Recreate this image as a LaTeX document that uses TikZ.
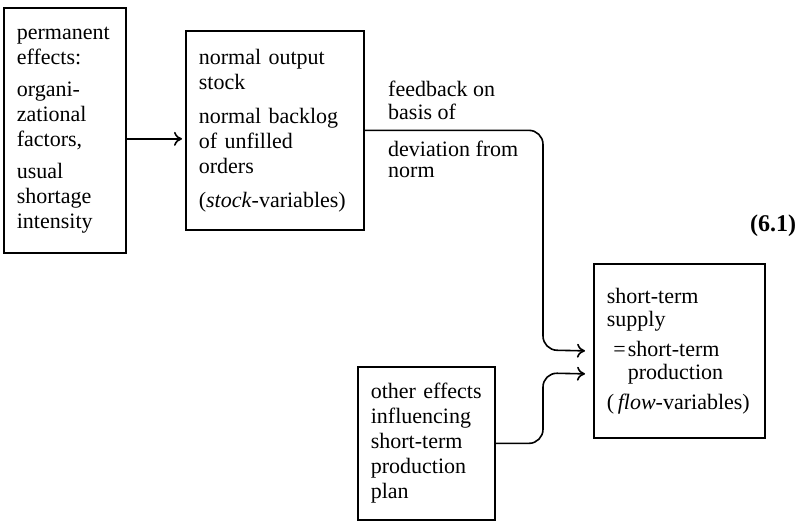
\documentclass[tikz,border=0pt]{standalone}
\usepackage{fontspec}
\setmainfont{Liberation Serif}
\usetikzlibrary{positioning,arrows.meta}
\tikzset{
	box/.style={draw, line width=1.7pt, anchor=north west, align=left, inner xsep=13pt, inner ysep=0pt,
		font=\fontsize{22}{25}\selectfont},
	lbl/.style={anchor=north west, align=left, inner sep=0pt},
	arr/.style={-{To[length=8pt,width=14pt]}, line width=1.6pt, rounded corners=14pt},
}
\begin{document}
\begin{tikzpicture}[x=1pt,y=-1pt]
					\useasboundingbox (0,0) rectangle (804,521);
					\node[box, text width=96pt, minimum height=245pt] (perm) at (3,7)
						{permanent\\ effects:\\[7pt] organi-\\ zational\\ factors,\\[7pt] usual\\ shortage\\ intensity};
					\node[box, text width=152pt, minimum height=199pt] (norm) at (185,30)
						{normal output\\ stock\\[9pt] normal backlog\\ of unfilled\\ orders\\[9pt] (\textit{stock}-variables)};
					\node[box, text width=145pt, minimum height=174pt, font=\fontsize{22}{23}\selectfont] (supply) at (593,263)
						{short-term\\ supply\\[7pt] \makebox[21pt][r]{=\kern2pt}short-term\\ \hspace*{21pt}production\\[7pt] (\,\textit{flow}-variables)};
					\node[box, text width=111pt, minimum height=153pt] (other) at (357,366)
						{other effects\\ influencing\\ short-term\\ production\\ plan};
					\node[lbl, font=\fontsize{22}{23}\selectfont] (fbon) at (388,81) {feedback on\\ basis of};
					\node[lbl, font=\fontsize{22}{21}\selectfont] (dev) at (388,141) {deviation from\\ norm};
					\node[font=\fontsize{24}{28}\selectfont\bfseries] (eqno) at (773,226) {(6.1)};
					% connectors
					\coordinate (fb) at (543,350);
					\coordinate (oe) at (543,373);
					\draw[arr] ([yshift=-8.5pt]perm.east) -- ([yshift=-8.5pt,xshift=-3pt]norm.west);
					\draw[arr] (norm.east) -| (fb) -- ([xshift=-8pt]supply.west);
					\draw[arr] (other.east) -| (oe) -- ([xshift=-8pt,yshift=-23pt]supply.west);
				\end{tikzpicture}
\end{document}
